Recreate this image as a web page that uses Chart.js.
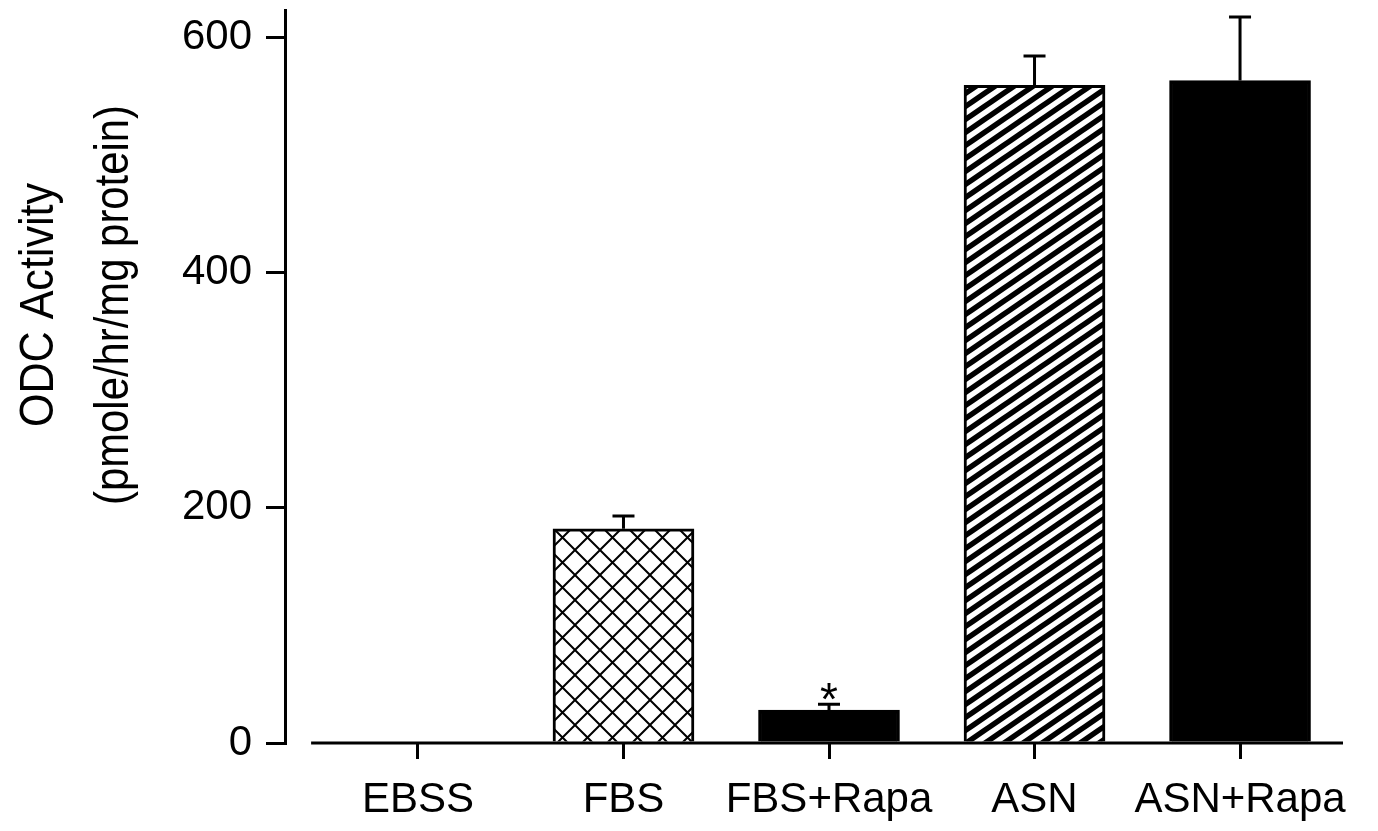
<!DOCTYPE html>
<html>
<head>
<meta charset="utf-8">
<script src="https://cdn.jsdelivr.net/npm/chart.js@4.4.0/dist/chart.umd.min.js"></script>
<style>
html,body{margin:0;padding:0;background:#fff;}
#wrap{width:1378px;height:831px;position:relative;}
</style>
</head>
<body>
<div id="wrap"><canvas id="c" width="1378" height="831"></canvas></div>
<script>
// ---- data ----
const categories = ['EBSS', 'FBS', 'FBS+Rapa', 'ASN', 'ASN+Rapa'];
const odcActivity = [0, 182, 28, 559, 563];
const odcError = [0, 11, 5, 25, 54];
const significance = ['', '', '*', '', ''];
const fillKinds = ['white', 'crosshatch', 'solid', 'stripes', 'solid'];
const yTicks = [0, 200, 400, 600];
const yTitle = ['ODC Activity', '(pmole/hr/mg protein)'];

const FONT = '"Liberation Sans", Arial, Helvetica, sans-serif';

function makePattern(kind) {
  const c = document.createElement('canvas');
  const ctx = c.getContext('2d');
  if (kind === 'crosshatch') {
    const s = 25;
    c.width = s; c.height = s;
    ctx.fillStyle = '#fff'; ctx.fillRect(0, 0, s, s);
    ctx.strokeStyle = '#000'; ctx.lineWidth = 2;
    ctx.beginPath();
    for (let k = -1; k <= 1; k++) {
      ctx.moveTo(k * s, 0); ctx.lineTo(k * s + s, s);
      ctx.moveTo(k * s + s, 0); ctx.lineTo(k * s, s);
    }
    ctx.stroke();
  } else if (kind === 'stripes') {
    const w = 19, h = 13;
    c.width = w; c.height = h;
    ctx.fillStyle = '#fff'; ctx.fillRect(0, 0, w, h);
    ctx.strokeStyle = '#000'; ctx.lineWidth = 5.5;
    ctx.beginPath();
    for (let k = -2; k <= 2; k++) {
      ctx.moveTo(k * w - w, 2 * h); ctx.lineTo(k * w + 2 * w, -h);
    }
    ctx.stroke();
  }
  return document.getElementById('c').getContext('2d').createPattern(c, 'repeat');
}

const fills = fillKinds.map(k => k === 'solid' ? '#000' : k === 'white' ? '#fff' : makePattern(k));

const overlay = {
  id: 'overlay',
  afterDatasetsDraw(chart) {
    const { ctx, scales: { x, y }, chartArea } = chart;
    ctx.save();
    ctx.strokeStyle = '#000';
    ctx.lineWidth = 3;
    // baseline (x axis line, starts with a small gap after y axis)
    const y0 = y.getPixelForValue(0);
    ctx.beginPath();
    ctx.moveTo(x.getPixelForValue(0.48), y0);
    ctx.lineTo(chartArea.right, y0);
    ctx.stroke();
    // error bars
    categories.forEach((c, i) => {
      if (!odcError[i]) return;
      const xp = x.getPixelForValue(i + 1);
      const yt = y.getPixelForValue(odcActivity[i]);
      const ye = y.getPixelForValue(odcActivity[i] + odcError[i]);
      ctx.beginPath();
      ctx.moveTo(xp, yt); ctx.lineTo(xp, ye);
      ctx.moveTo(xp - 11, ye); ctx.lineTo(xp + 11, ye);
      ctx.stroke();
      if (significance[i]) {
        ctx.fillStyle = '#000';
        ctx.font = '46px ' + FONT;
        ctx.textAlign = 'center';
        ctx.textBaseline = 'alphabetic';
        ctx.fillText(significance[i], xp, ye + 11);
      }
    });
    ctx.restore();
  },
  afterDraw(chart) {
    const { ctx } = chart;
    ctx.save();
    ctx.fillStyle = '#000';
    ctx.font = '49px ' + FONT;
    ctx.textAlign = 'center';
    ctx.textBaseline = 'alphabetic';
    ctx.translate(0, 305);
    ctx.rotate(-Math.PI / 2);
    ctx.fillText(yTitle[0], 0, 53, 244);
    ctx.fillText(yTitle[1], 0, 128, 400);
    ctx.restore();
  }
};

new Chart(document.getElementById('c'), {
  type: 'bar',
  data: {
    datasets: [{
      data: categories.map((c, i) => ({ x: i + 1, y: odcActivity[i] })),
      backgroundColor: fills,
      borderColor: '#000',
      borderWidth: 3,
      barThickness: 141,
      borderSkipped: 'start'
    }]
  },
  options: {
    responsive: false,
    animation: false,
    devicePixelRatio: 1,
    layout: { padding: { left: 0, top: 10, right: 35, bottom: 0 } },
    plugins: { legend: { display: false }, tooltip: { enabled: false } },
    scales: {
      x: {
        type: 'linear',
        offset: false,
        min: 0.353,
        max: 5.501,
        afterBuildTicks: s => { s.ticks = categories.map((c, i) => ({ value: i + 1 })); },
        afterFit: s => { s.height = 88; s.paddingLeft = 0; s.paddingRight = 0; },
        ticks: {
          callback: v => categories[v - 1],
          font: { family: FONT, size: 42 },
          color: '#000',
          padding: 16,
          autoSkip: false,
          maxRotation: 0,
          minRotation: 0
        },
        grid: { offset: false, drawOnChartArea: false, drawTicks: true, tickLength: 16, tickWidth: 3, tickColor: '#000', lineWidth: 3, color: '#000' },
        border: { display: false }
      },
      y: {
        min: 0,
        max: 623,
        afterBuildTicks: s => { s.ticks = yTicks.map(v => ({ value: v })); },
        afterFit: s => { s.width = 285; s.paddingTop = 0; s.paddingBottom = 0; },
        ticks: {
          font: { family: FONT, size: 42 },
          color: '#000',
          padding: 14
        },
        grid: { drawOnChartArea: false, drawTicks: true, tickLength: 19, tickWidth: 3, tickColor: '#000', lineWidth: 3, color: '#000' },
        border: { display: true, color: '#000', width: 3 }
      }
    }
  },
  plugins: [overlay]
});
</script>
</body>
</html>
